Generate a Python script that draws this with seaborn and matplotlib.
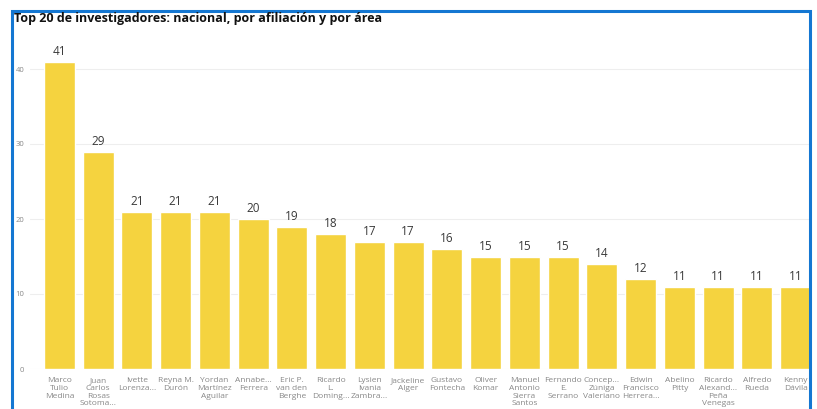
import matplotlib
matplotlib.use('Agg')
import matplotlib.pyplot as plt
import seaborn as sns
import pandas as pd
from matplotlib.patches import Rectangle

nombres = ["Marco\nTulio\nMedina", "Juan\nCarlos\nRosas\nSotoma...", "Ivette\nLorenza...",
           "Reyna M.\nDurón", "Yordan\nMartínez\nAguilar", "Annabe...\nFerrera",
           "Eric P.\nvan den\nBerghe", "Ricardo\nL.\nDoming...", "Lysien\nIvania\nZambra...",
           "Jackeline\nAlger", "Gustavo\nFontecha", "Oliver\nKomar",
           "Manuel\nAntonio\nSierra\nSantos", "Fernando\nE.\nSerrano",
           "Concep...\nZúniga\nValeriano", "Edwin\nFrancisco\nHerrera...", "Abelino\nPitty",
           "Ricardo\nAlexand...\nPeña\nVenegas", "Alfredo\nRueda", "Kenny\nDávila"]
valores = [41, 29, 21, 21, 21, 20, 19, 18, 17, 17, 16, 15, 15, 15, 14, 12, 11, 11, 11, 11]
yticks = [0, 10, 20, 30, 40]

df = pd.DataFrame({'nombre': nombres, 'n': valores})

sns.set_style('white')
plt.rcParams['font.family'] = ['Open Sans', 'DejaVu Sans']

fig = plt.figure(figsize=(8.17, 4.09), dpi=100)
ax = fig.add_axes([30 / 817, 40 / 409, 782 / 817, 330 / 409])

sns.barplot(data=df, x='nombre', y='n', color='#F5D33F', saturation=1, width=0.8, ax=ax)

ax.set_xlim(-0.758, 19.42)
ax.set_ylim(0, 44)
ax.set_yticks(yticks)
ax.yaxis.grid(True, color='#eeeeee', linewidth=0.8)
ax.set_axisbelow(True)
for s in ax.spines.values():
    s.set_visible(False)
ax.set_xlabel('')
ax.set_ylabel('')
ax.tick_params(axis='y', labelsize=5.5, labelcolor='#888888', length=0, pad=4)
ax.tick_params(axis='x', labelsize=6.0, labelcolor='#888888', length=0, pad=6)
for t in ax.get_xticklabels():
    t.set_linespacing(1.12)
    t.set_verticalalignment('top')

for i, v in enumerate(valores):
    ax.text(i, v + 0.5, str(v), ha='center', va='bottom', fontsize=8.5, color='#3a3a3a')

fig.text(14 / 817, 1 - 18.5 / 409, 'Top 20 de investigadores: nacional, por afiliación y por área',
         fontsize=9, fontweight='bold', color='#111111', va='center', ha='left', zorder=20)

# marco azul
fig.add_artist(Rectangle((12 / 817, -0.05), (810 - 12) / 817, 1.05 - 11 / 409,
                         transform=fig.transFigure, fill=False, edgecolor='#1477D2',
                         linewidth=2.2, zorder=10))

fig.savefig('out.png', dpi=100)
